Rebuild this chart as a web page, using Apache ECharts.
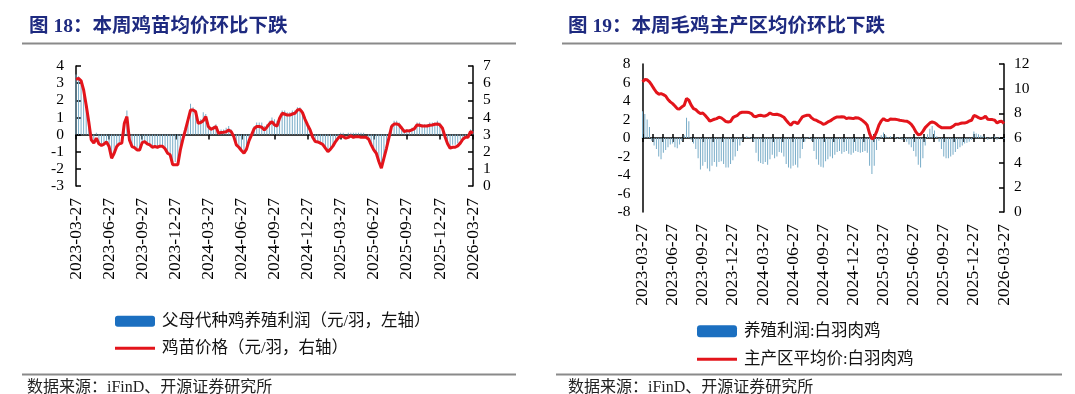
<!DOCTYPE html>
<html><head><meta charset="utf-8">
<script src="https://cdn.jsdelivr.net/npm/echarts@6/dist/echarts.min.js"></script>
<style>html,body{margin:0;padding:0;background:#fff}#c{width:1075px;height:394px}</style>
</head><body><div id="c"></div>
<script>
const tickLabels = ['2023-03-27','2023-06-27','2023-09-27','2023-12-27','2024-03-27','2024-06-27','2024-09-27','2024-12-27','2025-03-27','2025-06-27','2025-09-27','2025-12-27','2026-03-27'];

const leftBars = [3.5,3.4,3.2,2.6,1.8,0.8,-0.3,-0.5,0.1,-0.5,
-0.6,-0.5,-0.4,-0.8,-1.4,-1.2,-0.7,-0.5,-0.4,0.8,
1.4,-0.2,-0.7,-0.8,-0.9,-0.9,-0.5,-0.4,-0.6,-0.6,
-0.7,-0.7,-0.8,-0.7,-0.7,-0.9,-1.1,-1.3,-1.6,-1.6,
-1.5,-0.8,-0.2,0.4,1.0,1.8,1.6,1.4,0.8,0.9,
1.3,1.2,0.6,0.4,0.5,0.6,0.2,0.3,0.3,0.4,
0.5,0.3,-0.1,-0.5,-0.7,-0.9,-1.0,-0.8,-0.3,0.1,
0.5,0.7,0.7,0.7,0.5,0.6,0.8,1.0,0.9,0.8,
1.0,1.4,1.4,1.3,1.3,1.4,1.4,1.6,1.6,1.4,
1.0,0.6,0.3,-0.1,-0.3,-0.4,-0.5,-0.6,-0.7,-0.9,
-0.8,-0.6,-0.4,-0.2,0.1,0.1,0.0,0.1,0.1,0.1,
0.1,0.1,0.1,0.1,0.0,-0.2,-0.5,-0.8,-1.1,-1.5,
-1.8,-1.4,-0.7,0.1,0.6,0.8,0.8,0.7,0.5,0.3,
0.3,0.3,0.4,0.5,0.7,0.7,0.6,0.6,0.6,0.7,
0.7,0.7,0.8,0.7,0.4,-0.2,-0.6,-0.7,-0.6,-0.6,
-0.5,-0.3,-0.2,-0.1,-0.1,0.3,0.2];

const leftPrice = [6.22,6.28,6.14,5.6,4.72,3.76,2.69,2.5,2.79,2.46,
2.36,2.44,2.57,2.3,1.62,1.91,2.3,2.46,2.5,3.66,
4.05,2.69,2.3,2.24,2.1,2.1,2.53,2.59,2.46,2.4,
2.26,2.3,2.26,2.32,2.32,2.17,1.91,1.82,1.24,1.24,
1.24,2.1,2.73,3.27,3.85,4.43,4.43,4.34,3.66,3.7,
3.81,4.05,3.47,3.31,3.37,3.47,3.08,3.12,3.14,3.17,
3.27,3.17,2.88,2.4,2.26,2.07,1.91,2.15,2.65,2.98,
3.35,3.47,3.47,3.43,3.27,3.43,3.62,3.76,3.56,3.5,
3.95,4.24,4.2,4.14,4.14,4.2,4.24,4.43,4.47,4.28,
3.89,3.56,3.27,2.84,2.59,2.57,2.5,2.42,2.21,2.01,
2.15,2.34,2.59,2.79,2.92,2.88,2.79,2.84,2.92,2.84,
2.88,2.88,2.84,2.84,2.84,2.73,2.4,2.11,1.91,1.43,
1.04,1.62,2.2,2.84,3.47,3.62,3.62,3.56,3.37,3.17,
3.23,3.21,3.27,3.35,3.56,3.54,3.5,3.5,3.5,3.54,
3.56,3.6,3.62,3.56,3.37,2.88,2.46,2.21,2.26,2.26,
2.34,2.5,2.73,2.84,2.84,3.17,3.08];

const rightBars = [2.9,2.6,2.0,1.2,-0.3,-0.8,-1.2,-2.0,-2.3,-1.6,
-1.3,-1.0,-0.7,-0.6,-1.0,-1.1,-0.7,-0.3,0.3,2.2,
1.8,-0.2,-0.6,-1.2,-2.2,-3.4,-3.0,-2.6,-3.3,-3.6,
-3.0,-2.6,-3.1,-2.6,-2.5,-2.8,-3.2,-3.2,-2.8,-2.4,
-2.0,-1.4,-0.8,-0.3,0.0,0.2,0.1,-0.1,-0.4,-1.6,
-2.5,-2.7,-2.8,-2.6,-2.9,-2.3,-1.8,-2.2,-2.0,-1.5,
-1.6,-2.0,-2.8,-3.2,-3.3,-3.0,-2.9,-3.2,-2.2,-1.2,
-0.4,-0.1,0.1,-0.3,-1.4,-2.3,-2.9,-3.1,-3.2,
-2.5,-2.3,-2.0,-2.2,-1.8,-1.5,-1.4,-1.7,-1.5,-1.4,
-1.7,-1.8,-1.6,-1.4,-1.5,-1.6,-1.5,-1.4,-1.6,-3.0,
-3.9,-3.0,-1.3,-0.3,0.3,0.6,0.3,0.1,0.2,0.0,
0.1,-0.1,0.1,-0.2,-0.1,-0.4,-0.7,-1.0,-1.4,-2.0,
-2.9,-3.2,-2.2,-0.8,0.4,1.0,1.3,0.8,0.2,-0.4,
-1.2,-2.0,-2.2,-2.2,-2.0,-1.8,-1.5,-1.2,-1.0,-0.8,
-0.6,-0.5,-0.4,-0.2,0.7,0.5,0.4,0.3,0.2,0.1,
-0.2,0.1,-0.1,0.2,-0.2,0.1,0.0,-0.1];

const rightPrice = [10.55,10.74,10.72,10.55,10.28,9.98,9.71,9.55,9.6,9.52,
9.41,9.12,8.93,8.79,8.6,8.38,8.36,8.52,8.66,9.2,
9.06,8.66,8.38,8.3,8.11,7.98,8.03,7.84,7.63,7.38,
7.44,7.52,7.57,7.68,7.63,7.49,7.33,7.3,7.33,7.65,
7.76,7.84,8.03,8.09,8.09,8.09,8.06,7.98,7.76,7.73,
7.82,7.84,7.79,7.79,7.87,8.03,7.92,7.9,7.92,7.87,
7.79,7.68,7.44,7.22,7.03,7.27,7.27,7.17,7.44,7.71,
7.79,7.84,7.84,7.63,7.49,7.44,7.33,7.25,7.11,7.17,
7.3,7.38,7.52,7.63,7.71,7.71,7.73,7.71,7.57,7.63,
7.6,7.57,7.65,7.63,7.54,7.41,7.25,7.03,6.35,5.92,
6.08,6.49,7.03,7.38,7.57,7.44,7.41,7.54,7.52,7.52,
7.49,7.44,7.41,7.38,7.36,7.27,7.11,6.84,6.49,6.27,
6.3,6.54,6.84,7.03,7.22,7.3,7.25,7.11,6.95,6.84,
6.84,6.84,6.84,6.84,6.95,7.11,7.11,7.17,7.22,7.22,
7.27,7.38,7.44,7.82,7.76,7.65,7.57,7.63,7.76,7.52,
7.49,7.49,7.44,7.22,7.33,7.36,7.17];

const names = {
  lb: '父母代种鸡养殖利润（元/羽，左轴）',
  lp: '鸡苗价格（元/羽，右轴）',
  rb: '养殖利润:白羽肉鸡',
  rp: '主产区平均价:白羽肉鸡'
};

const cats = leftBars.map((_, i) => String(i));
const SERIF = '"Liberation Serif","Noto Sans CJK SC",serif';
const BLACK = '#000';
const BAR_COLOR = '#78acc8';
const RED = '#e3141b';
const LEG_BLUE = '#1b6fc0';

const labelAxis = (g) => ({
  gridIndex: g, type: 'category', data: cats, boundaryGap: false, position: 'bottom',
  axisLine: { show: false, onZero: false }, axisTick: { show: false },
  axisLabel: { interval: 12, rotate: 90, margin: 12, fontSize: 17.5, fontFamily: SERIF, color: BLACK,
    formatter: (v, i) => tickLabels[Math.round(i / 13)] }
});

const yAx = (g, pos, min, max, step, ticks) => ({
  gridIndex: g, type: 'value', position: pos, min, max, interval: step,
  axisLine: { show: true, onZero: false, lineStyle: { color: BLACK, width: 1.5 } },
  axisTick: { show: ticks, inside: true, length: 5, lineStyle: { color: BLACK, width: 1.5 } },
  axisLabel: { fontSize: 15.5, fontFamily: SERIF, color: BLACK, margin: pos === 'left' ? 12 : 10 },
  splitLine: { show: false }
});

const legendText = { fontSize: 16.5, fontFamily: SERIF, color: '#111', padding: [0, 0, 0, 2] };

const option = {
  animation: false,
  backgroundColor: '#fff',
  title: [
    { text: '图 18：本周鸡苗均价环比下跌', left: 24, top: 12, textStyle: { fontSize: 19.5, fontWeight: 'bold', color: '#1e2a80', fontFamily: SERIF } },
    { text: '图 19：本周毛鸡主产区均价环比下跌', left: 563, top: 12, textStyle: { fontSize: 19.5, fontWeight: 'bold', color: '#1e2a80', fontFamily: SERIF } },
    { text: '数据来源：iFinD、开源证券研究所', left: 22, top: 375, textStyle: { fontSize: 16, fontWeight: 'normal', color: '#222', fontFamily: SERIF } },
    { text: '数据来源：iFinD、开源证券研究所', left: 563, top: 375, textStyle: { fontSize: 16, fontWeight: 'normal', color: '#222', fontFamily: SERIF } }
  ],
  graphic: [
    { type: 'line', shape: { x1: 22, y1: 43.5, x2: 516, y2: 43.5 }, style: { stroke: '#8a8a8a', lineWidth: 2 } },
    { type: 'line', shape: { x1: 562, y1: 43.5, x2: 1062, y2: 43.5 }, style: { stroke: '#8a8a8a', lineWidth: 2 } },
    { type: 'line', shape: { x1: 22, y1: 374.5, x2: 516, y2: 374.5 }, style: { stroke: '#8a8a8a', lineWidth: 2 } },
    { type: 'line', shape: { x1: 556, y1: 374.5, x2: 1062, y2: 374.5 }, style: { stroke: '#8a8a8a', lineWidth: 2 } }
  ],
  legend: [
    { data: [{ name: names.lb, itemStyle: { color: LEG_BLUE } }], left: 110, top: 308, itemWidth: 40, itemHeight: 11, selectedMode: false, textStyle: legendText },
    { data: [{ name: names.lp, icon: 'rect' }], left: 110, top: 335, itemWidth: 40, itemHeight: 3, selectedMode: false, textStyle: legendText },
    { data: [{ name: names.rb, itemStyle: { color: LEG_BLUE } }], left: 692, top: 318, itemWidth: 40, itemHeight: 12, selectedMode: false, textStyle: legendText },
    { data: [{ name: names.rp, icon: 'rect' }], left: 692, top: 346, itemWidth: 40, itemHeight: 3, selectedMode: false, textStyle: legendText }
  ],
  grid: [
    { left: 76, top: 66, width: 397, height: 120 },
    { left: 642.5, top: 64, width: 361.5, height: 148 }
  ],
  xAxis: [
    labelAxis(0),
    { gridIndex: 0, type: 'category', data: cats, boundaryGap: false,
      axisLine: { show: true, onZero: true, onZeroAxisIndex: 0, lineStyle: { color: BLACK, width: 1.5 } },
      axisTick: { show: true, interval: 12, inside: true, length: 5, lineStyle: { color: BLACK, width: 1.5 } },
      axisLabel: { show: false } },
    labelAxis(1),
    { gridIndex: 1, type: 'value', min: 0, max: 36, interval: 1,
      axisLine: { show: true, onZero: true, onZeroAxisIndex: 2, lineStyle: { color: BLACK, width: 1.5 } },
      axisTick: { show: true, inside: false, length: 4, lineStyle: { color: BLACK, width: 1.5 } },
      axisLabel: { show: false }, splitLine: { show: false } },
    { gridIndex: 1, type: 'value', min: 0, max: 36, interval: 1,
      axisLine: { show: false, onZero: true, onZeroAxisIndex: 2 },
      axisTick: { show: true, inside: true, length: 4, lineStyle: { color: BLACK, width: 1.5 } },
      axisLabel: { show: false }, splitLine: { show: false } }
  ],
  yAxis: [
    yAx(0, 'left', -3, 4, 1, true),
    yAx(0, 'right', 0, 7, 1, true),
    yAx(1, 'left', -8, 8, 2, false),
    yAx(1, 'right', 0, 12, 2, true)
  ],
  series: [
    { name: names.lb, type: 'bar', xAxisIndex: 0, yAxisIndex: 0, data: leftBars, barWidth: 1, itemStyle: { color: BAR_COLOR }, z: 2 },
    { name: names.lp, type: 'line', xAxisIndex: 0, yAxisIndex: 1, data: leftPrice, showSymbol: false, symbol: 'none', lineStyle: { width: 3, color: RED }, itemStyle: { color: RED }, z: 5 },
    { name: names.rb, type: 'bar', xAxisIndex: 2, yAxisIndex: 2, data: rightBars, barWidth: 1, itemStyle: { color: BAR_COLOR }, z: 2 },
    { name: names.rp, type: 'line', xAxisIndex: 2, yAxisIndex: 3, data: rightPrice, showSymbol: false, symbol: 'none', lineStyle: { width: 3, color: RED }, itemStyle: { color: RED }, z: 5 }
  ]
};

const chart = echarts.init(document.getElementById('c'), null, { renderer: 'canvas' });
chart.setOption(option);
</script>
</body></html>
